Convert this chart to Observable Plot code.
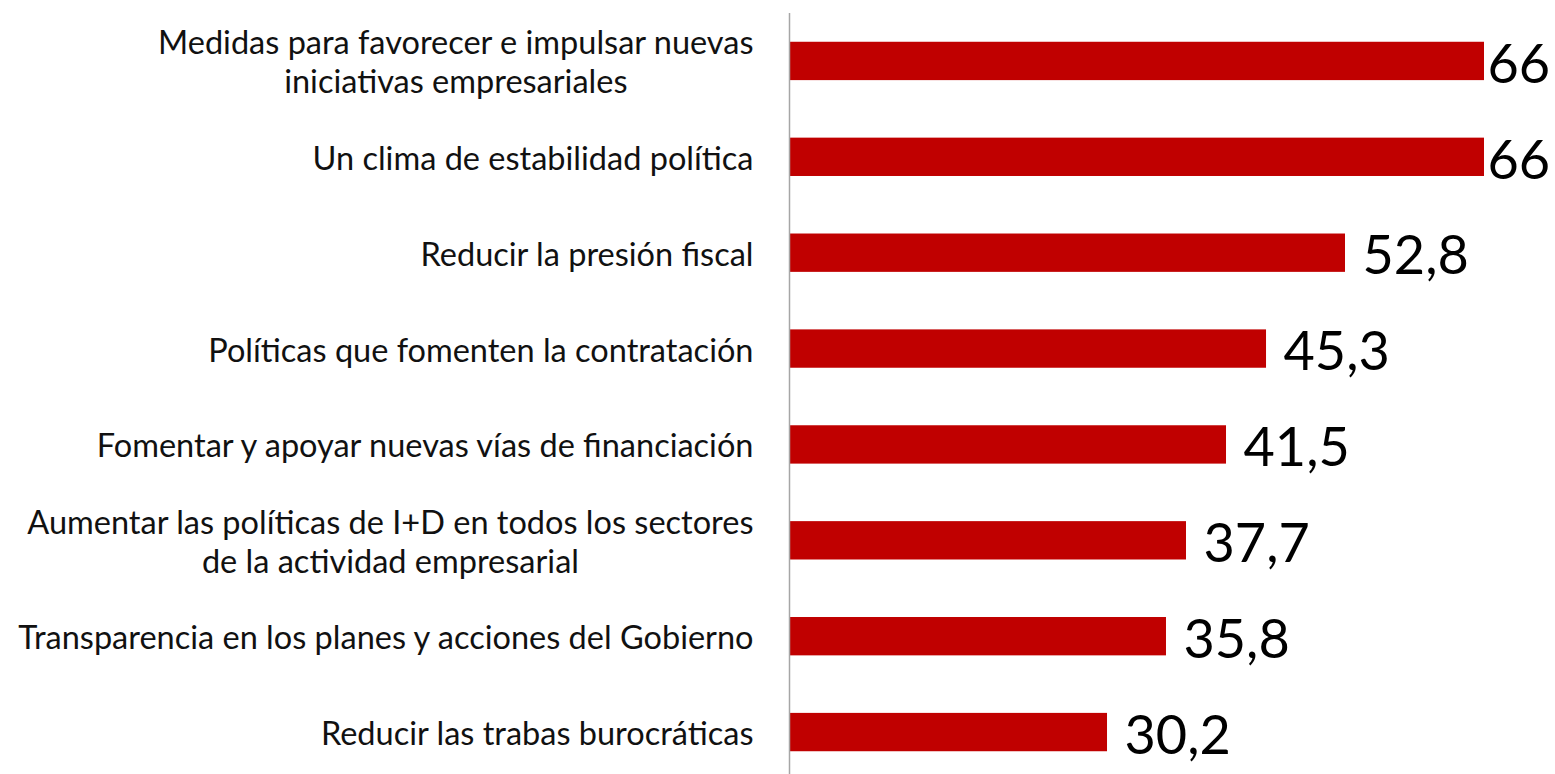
<!DOCTYPE html>
<html>
<head>
<meta charset="utf-8">
<script src="https://cdn.jsdelivr.net/npm/d3@7"></script>
<script src="https://cdn.jsdelivr.net/npm/@observablehq/plot@0.6"></script>
<style>
  html, body { margin: 0; padding: 0; background: #fff; }
  #chart svg { display: block; }
</style>
</head>
<body>
<div id="chart"></div>
<script>
const categories = [
  "Medidas para favorecer e impulsar nuevas\niniciativas empresariales",
  "Un clima de estabilidad política",
  "Reducir la presión fiscal",
  "Políticas que fomenten la contratación",
  "Fomentar y apoyar nuevas vías de financiación",
  "Aumentar las políticas de I+D en todos los sectores\nde la actividad empresarial",
  "Transparencia en los planes y acciones del Gobierno",
  "Reducir las trabas burocráticas"
];
const values = [66, 66, 52.8, 45.3, 41.5, 37.7, 35.8, 30.2];
const valueLabels = ["66", "66", "52,8", "45,3", "41,5", "37,7", "35,8", "30,2"];

const data = categories.map((c, i) => ({category: c, value: values[i], label: valueLabels[i]}));
const maxV = d3.max(values);

const chart = Plot.plot({
  width: 1555,
  height: 774,
  marginLeft: 789,
  marginRight: 71,
  marginTop: 13,
  marginBottom: -6,
  style: {fontFamily: "Lato, sans-serif", background: "#fff"},
  x: {domain: [0, 66], axis: null},
  y: {domain: categories, axis: null, paddingInner: 0.6, paddingOuter: 0.3, round: false},
  marks: [
    Plot.barX(data, {x: "value", y: "category", fill: "#C00000"}),
    Plot.ruleX([0], {stroke: "#A6A6A6", strokeWidth: 1.5}),
    Plot.text(data, {x: 0, y: "category", text: "category", textAnchor: "end", dx: -36,
      fontSize: 32.5, lineHeight: 1.2, fill: "#111", className: "cat-labels"}),
    Plot.text(data.filter(d => d.value < maxV), {x: "value", y: "category", text: "label",
      textAnchor: "start", dx: 17, dy: 4, fontSize: 54, fill: "#000"}),
    Plot.text(data.filter(d => d.value === maxV), {x: "value", y: "category", text: "label",
      textAnchor: "start", dx: 3, dy: 4, fontSize: 54, fill: "#000"})
  ]
});
document.getElementById("chart").appendChild(chart);

// center multi-line category labels on their widest line (right edge kept)
chart.querySelectorAll("text").forEach(t => {
  const spans = t.querySelectorAll("tspan");
  if (spans.length > 1) {
    const widths = Array.from(spans, s => s.getComputedTextLength());
    const W = Math.max(...widths);
    t.setAttribute("text-anchor", "middle");
    t.style.textAnchor = "middle";
    spans.forEach(s => s.setAttribute("x", String(-W / 2)));
  }
});
</script>
</body>
</html>
